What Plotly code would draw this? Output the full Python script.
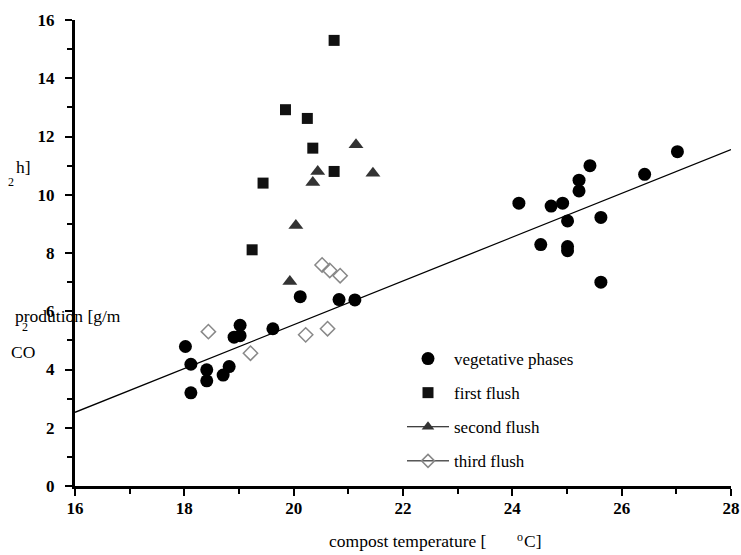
import plotly.graph_objects as go

# ---- data ----
veg_x = [18.02, 18.12, 18.12, 18.41, 18.41, 18.71, 18.82, 18.91, 19.02, 19.02, 19.62, 20.12, 20.83, 21.12,
         24.12, 24.52, 24.71, 24.92, 25.01, 25.01, 25.01, 25.22, 25.22, 25.42, 25.62, 25.62, 26.42, 27.02]
veg_y = [4.79, 4.18, 3.20, 3.99, 3.61, 3.81, 4.10, 5.11, 5.16, 5.52, 5.40, 6.50, 6.40, 6.39,
         9.71, 8.29, 9.61, 9.71, 9.10, 8.22, 8.08, 10.50, 10.13, 11.00, 9.22, 7.00, 10.70, 11.48]

first_x = [20.74, 19.85, 20.25, 20.35, 20.74, 19.44, 19.24]
first_y = [15.30, 12.92, 12.62, 11.60, 10.80, 10.40, 8.11]

second_x = [21.14, 21.45, 20.44, 20.35, 20.04, 19.93]
second_y = [11.72, 10.74, 10.80, 10.42, 8.94, 7.02]

third_x = [18.44, 19.21, 20.22, 20.62, 20.52, 20.66, 20.85]
third_y = [5.30, 4.56, 5.19, 5.40, 7.59, 7.40, 7.22]

fit_x = [16, 28]
fit_y = [2.53, 11.55]

x_ticks = [16, 18, 20, 22, 24, 26, 28]
y_ticks = [0, 2, 4, 6, 8, 10, 12, 14, 16]

SERIF = "Liberation Serif"

# plot area in pixels
L, R, T, B = 75, 10, 20, 69
W, H = 741, 555
PW, PH = W - L - R, H - T - B


def px(xp, yp):
    return (xp - L) / PW, (H - B - yp) / PH


fig = go.Figure()

fig.add_trace(go.Scatter(x=fit_x, y=fit_y, mode="lines",
                         line=dict(color="black", width=1.3), showlegend=False, hoverinfo="skip"))

fig.add_trace(go.Scatter(x=veg_x, y=veg_y, mode="markers", showlegend=False,
                         marker=dict(symbol="circle", size=13, color="black")))
fig.add_trace(go.Scatter(x=first_x, y=first_y, mode="markers", showlegend=False,
                         marker=dict(symbol="square", size=11, color="#111")))
fig.add_trace(go.Scatter(x=second_x, y=second_y, mode="markers", showlegend=False,
                         marker=dict(symbol="triangle-up", size=13, color="#333")))
fig.add_trace(go.Scatter(x=third_x, y=third_y, mode="markers", showlegend=False,
                         marker=dict(symbol="diamond-open", size=11, color="#888",
                                     line=dict(width=1.5))))

# legend entries
fig.add_trace(go.Scatter(x=[None], y=[None], mode="markers", name="vegetative phases",
                         legendgroup="a", marker=dict(symbol="circle", size=13, color="black")))
fig.add_trace(go.Scatter(x=[None], y=[None], mode="markers", name="first flush",
                         legendgroup="b", marker=dict(symbol="square", size=11, color="#111")))
fig.add_trace(go.Scatter(x=[None], y=[None], mode="lines+markers", name="second flush",
                         legendgroup="c", line=dict(color="black", width=1),
                         marker=dict(symbol="triangle-up", size=11, color="#333")))
fig.add_trace(go.Scatter(x=[None], y=[None], mode="lines+markers", name="third flush",
                         legendgroup="d", line=dict(color="black", width=1),
                         marker=dict(symbol="diamond-open", size=10, color="#888",
                                     line=dict(width=1.5))))

axis_common = dict(
    showline=True, linecolor="black", linewidth=3, mirror=False,
    ticks="outside", ticklen=7, tickwidth=2, tickcolor="black",
    showgrid=False, zeroline=False, automargin=False,
    tickfont=dict(family=SERIF, size=17, color="black"),
)

fig.update_xaxes(range=[16, 28], tickvals=x_ticks, ticktext=["<b>%d</b>" % v for v in x_ticks],
                 minor=dict(ticks="outside", ticklen=5, tickwidth=2, tickcolor="black", dtick=1),
                 ticklabelstandoff=-2, **axis_common)
fig.update_yaxes(range=[0, 16], tickvals=y_ticks, ticktext=["<b>%d</b>" % v for v in y_ticks],
                 minor=dict(ticks="outside", ticklen=5, tickwidth=2, tickcolor="black", dtick=1),
                 ticklabelstandoff=7, **axis_common)

lx, ly = px(402, 341)
fig.update_layout(
    width=W, height=H,
    margin=dict(l=L, r=R, t=T, b=B, autoexpand=False),
    paper_bgcolor="white", plot_bgcolor="white",
    font=dict(family=SERIF, color="black"),
    legend=dict(x=lx, y=ly, xanchor="left", yanchor="top", bgcolor="rgba(0,0,0,0)",
                font=dict(family=SERIF, size=17, color="black"), tracegroupgap=9,
                itemwidth=42),
)

# garbled axis titles as in the original
ann = []


def add_text(t, xp, yp, size=17.5, xanchor="left"):
    x, y = px(xp, yp)
    ann.append(dict(text=t, x=x, y=y, xref="paper", yref="paper", showarrow=False,
                    xanchor=xanchor, yanchor="middle",
                    font=dict(family=SERIF, size=size, color="black")))


add_text("compost temperature [", 327, 541)
add_text("o", 515, 537, size=12)
add_text("C]", 522, 541)

add_text("prodution [g/m", 13, 316)
add_text("2", 20, 327, size=12)
add_text("CO", 9, 352)
add_text("2", 6, 182, size=12)
add_text("h]", 14, 167)

fig.update_layout(annotations=ann)

fig.write_html("out.html")
